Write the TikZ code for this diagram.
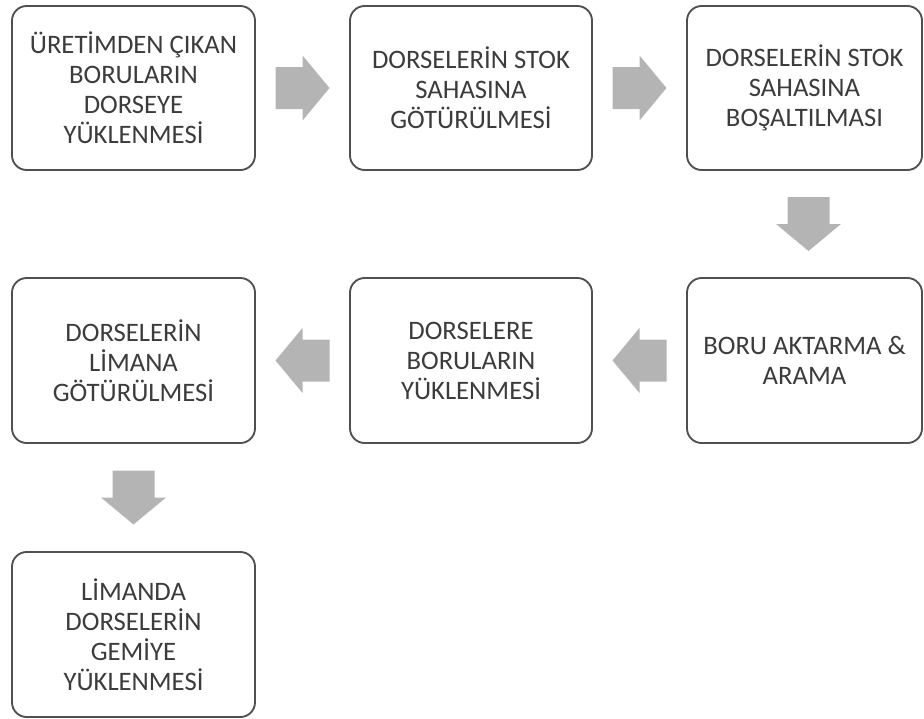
\documentclass[tikz,border=0pt]{standalone}
\usepackage{fontspec}
\setmainfont{Carlito}
\usetikzlibrary{calc}
\definecolor{boxline}{HTML}{505050}
\definecolor{txt}{HTML}{3C3C3C}
\definecolor{arrowgray}{HTML}{B4B4B4}
\tikzset{
  stepbox/.style={draw=boxline, line width=1.4pt, rounded corners=11pt, fill=white,
    align=center, text=txt, inner sep=0pt,
    font=\fontsize{20}{22.5}\selectfont},
  blockarrow/.pic={\fill[arrowgray] (-27,-21) -- (0,-21) -- (0,-32.5) -- (27,0) -- (0,32.5) -- (0,21) -- (-27,21) -- cycle;}
}
\begin{document}
\begin{tikzpicture}[x=0.75pt,y=-0.75pt]
\useasboundingbox (0,0) rectangle (924,718);
\node[stepbox, minimum width=243*0.75pt, minimum height=164*0.75pt] (b1) at (133.5,88) {ÜRETİMDEN ÇIKAN\\BORULARIN\\DORSEYE\\YÜKLENMESİ};
\node[stepbox, minimum width=242*0.75pt, minimum height=164*0.75pt] (b2) at (471,88) {DORSELERİN STOK\\SAHASINA\\GÖTÜRÜLMESİ};
\node[stepbox, minimum width=235*0.75pt, minimum height=164*0.75pt] (b3) at (804.5,88) {DORSELERİN STOK\\SAHASINA\\BOŞALTILMASI};
\node[stepbox, minimum width=235*0.75pt, minimum height=165*0.75pt] (b6) at (804.5,360.5) {BORU AKTARMA \&\\ARAMA};
\node[stepbox, minimum width=242*0.75pt, minimum height=165*0.75pt] (b5) at (471,360.5) {DORSELERE\\BORULARIN\\YÜKLENMESİ};
\node[stepbox, minimum width=243*0.75pt, minimum height=165*0.75pt] (b4) at (133.5,360.5) {DORSELERİN\\LİMANA\\GÖTÜRÜLMESİ};
\node[stepbox, minimum width=243*0.75pt, minimum height=165*0.75pt] (b7) at (133.5,634.5) {LİMANDA\\DORSELERİN\\GEMİYE\\YÜKLENMESİ};
\pic at ($(b1.east)!0.5!(b2.west)$) {blockarrow};
\pic at ($(b2.east)!0.5!(b3.west)$) {blockarrow};
\pic[rotate=-90] at ($(b3.south)!0.5!(b6.north)+(4,0)$) {blockarrow};
\pic[rotate=180] at ($(b6.west)!0.5!(b5.east)$) {blockarrow};
\pic[rotate=180] at ($(b5.west)!0.5!(b4.east)$) {blockarrow};
\pic[rotate=-90] at ($(b4.south)!0.5!(b7.north)$) {blockarrow};
\end{tikzpicture}
\end{document}
